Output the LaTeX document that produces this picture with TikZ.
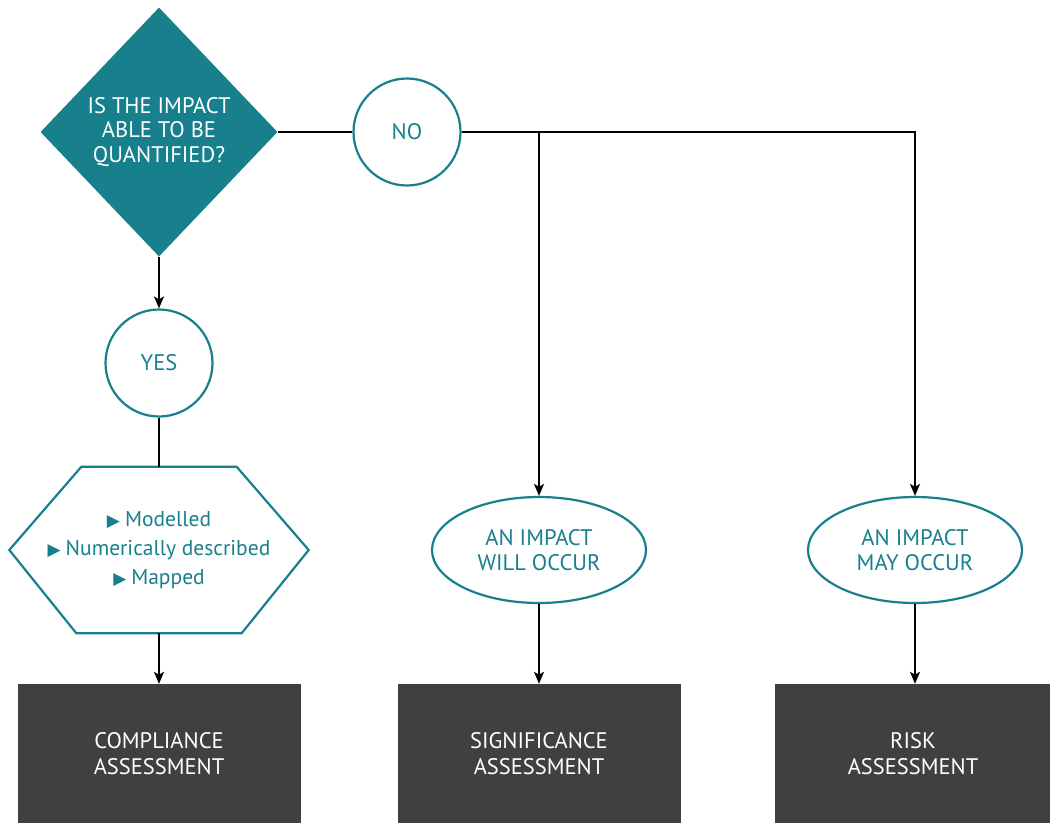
\documentclass[tikz,border=0pt]{standalone}
\usepackage{fontspec}
\setmainfont{PT Sans}
\newfontfamily\symfont{DejaVu Sans}
\usepackage{xcolor}
\usepackage{tikz}
\usetikzlibrary{positioning, shapes.geometric, arrows.meta}

\definecolor{tealmain}{HTML}{17808C}
\definecolor{darkbox}{HTML}{404042}

\tikzset{
    question/.style={diamond, fill=tealmain, text=white, inner sep=0pt, aspect=0.95,
        minimum width=237pt, minimum height=249pt, align=center,
        font=\fontsize{22.5}{24.5}\selectfont},
    answer/.style={circle, draw=tealmain, line width=2.2pt, fill=white, text=tealmain,
        minimum size=107pt, inner sep=0pt, font=\fontsize{22.5}{24}\selectfont},
    outcome/.style={ellipse, draw=tealmain, line width=2.2pt, fill=white, text=tealmain,
        minimum width=214pt, minimum height=106pt, inner sep=0pt, align=center,
        font=\fontsize{22.5}{25}\selectfont},
    assessment/.style={rectangle, fill=darkbox, text=white, minimum width=283pt,
        minimum height=139pt, align=center, font=\fontsize{22.5}{26}\selectfont},
    flow/.style={line width=2pt, black},
    flowarrow/.style={flow, -{Stealth[length=12pt, width=10pt, inset=3pt]}}
}

\newcommand{\hexbullet}{{\symfont\fontsize{17}{17}\selectfont ▶}\hspace{5pt}}

\begin{document}
\begin{tikzpicture}[x=1pt, y=-1pt]
    \useasboundingbox (0,0) rectangle (1050,823);

    % Define the nodes
    \node[question] (quant) at (159,132) {IS THE IMPACT\\ABLE TO BE\\QUANTIFIED?};
    \node[answer] (no) at (407,132) {NO};
    \node[answer] (yes) at (159,363) {YES};
    \node[minimum width=299pt, minimum height=166pt, inner sep=0pt, align=center,
        text=tealmain, font=\fontsize{21.5}{29}\selectfont] (hex) at (159,550)
        {\hexbullet Modelled\\\hexbullet Numerically described\\\hexbullet Mapped};
    \node[outcome] (will) at (539,550) {AN IMPACT\\WILL OCCUR};
    \node[outcome] (may) at (915,550) {AN IMPACT\\MAY OCCUR};
    \node[assessment] (comp) at (159,753.5) {COMPLIANCE\\ASSESSMENT};
    \node[assessment] (sig) at (539,753.5) {SIGNIFICANCE\\ASSESSMENT};
    \node[assessment, minimum width=276pt] (risk) at (913,753.5) {RISK\\ASSESSMENT};

    % Hexagon outline
    \draw[tealmain, line width=2.2pt, line join=miter]
        (hex.west) -- ([xshift=72pt]hex.north west) -- ([xshift=-72pt]hex.north east)
        -- (hex.east) -- ([xshift=-67pt]hex.south east) -- ([xshift=67pt]hex.south west)
        -- cycle;

    % Define the connectors
    \coordinate (split) at (no.east -| will.north);
    \draw[flow] (quant.east) -- (no.west);
    \draw[flowarrow] (no.east) -| (may.north);
    \draw[flowarrow] (split) -- (will.north);
    \draw[flowarrow] (quant.south) -- (yes.north);
    \draw[flow] (yes.south) -- (hex.north);
    \draw[flowarrow] (hex.south) -- (comp.north);
    \draw[flowarrow] (will.south) -- (sig.north);
    \draw[flowarrow] (may.south) -- (may.south |- risk.north);

\end{tikzpicture}
\end{document}
